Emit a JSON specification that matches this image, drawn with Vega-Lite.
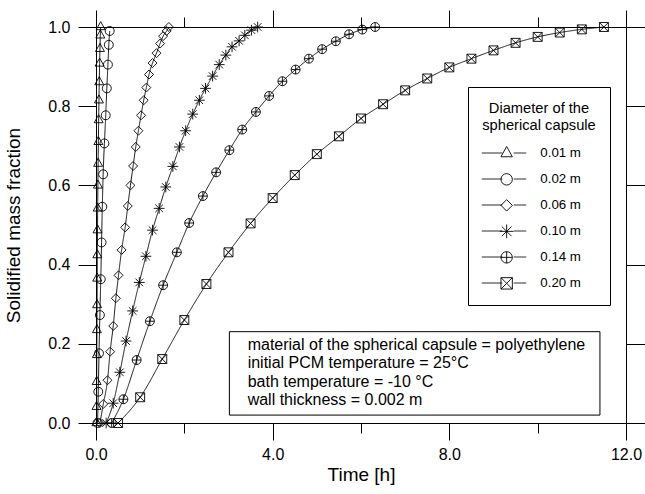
{
  "$schema": "https://vega.github.io/schema/vega-lite/v6.json",
  "width": 530,
  "height": 396,
  "autosize": {"type": "none"},
  "padding": {"left": 96, "top": 27, "right": 19, "bottom": 71},
  "background": "white",
  "config": {
    "view": {"stroke": null},
    "font": "Liberation Sans",
    "axis": {"grid": false, "domainColor": "#000", "tickColor": "#000", "labelColor": "#000", "titleColor": "#000", "domainWidth": 1, "tickWidth": 1}
  },
  "datasets": {
    "curves": [
      {"d": "0.01 m", "t": 0.010, "f": 0.000},
      {"d": "0.01 m", "t": 0.012, "f": 0.041},
      {"d": "0.01 m", "t": 0.015, "f": 0.104},
      {"d": "0.01 m", "t": 0.018, "f": 0.172},
      {"d": "0.01 m", "t": 0.021, "f": 0.235},
      {"d": "0.01 m", "t": 0.024, "f": 0.298},
      {"d": "0.01 m", "t": 0.027, "f": 0.365},
      {"d": "0.01 m", "t": 0.030, "f": 0.424},
      {"d": "0.01 m", "t": 0.034, "f": 0.487},
      {"d": "0.01 m", "t": 0.038, "f": 0.542},
      {"d": "0.01 m", "t": 0.043, "f": 0.600},
      {"d": "0.01 m", "t": 0.048, "f": 0.655},
      {"d": "0.01 m", "t": 0.054, "f": 0.710},
      {"d": "0.01 m", "t": 0.060, "f": 0.765},
      {"d": "0.01 m", "t": 0.067, "f": 0.815},
      {"d": "0.01 m", "t": 0.074, "f": 0.861},
      {"d": "0.01 m", "t": 0.082, "f": 0.908},
      {"d": "0.01 m", "t": 0.090, "f": 0.945},
      {"d": "0.01 m", "t": 0.098, "f": 0.979},
      {"d": "0.01 m", "t": 0.106, "f": 1.000},

      {"d": "0.02 m", "t": 0.035, "f": 0.000},
      {"d": "0.02 m", "t": 0.052, "f": 0.079},
      {"d": "0.02 m", "t": 0.068, "f": 0.176},
      {"d": "0.02 m", "t": 0.088, "f": 0.2725},
      {"d": "0.02 m", "t": 0.108, "f": 0.363},
      {"d": "0.02 m", "t": 0.126, "f": 0.456},
      {"d": "0.02 m", "t": 0.143, "f": 0.546},
      {"d": "0.02 m", "t": 0.162, "f": 0.628},
      {"d": "0.02 m", "t": 0.190, "f": 0.706},
      {"d": "0.02 m", "t": 0.220, "f": 0.777},
      {"d": "0.02 m", "t": 0.245, "f": 0.845},
      {"d": "0.02 m", "t": 0.270, "f": 0.905},
      {"d": "0.02 m", "t": 0.290, "f": 0.955},
      {"d": "0.02 m", "t": 0.310, "f": 0.990},

      {"d": "0.06 m", "t": 0.09, "f": 0.000},
      {"d": "0.06 m", "t": 0.165, "f": 0.048},
      {"d": "0.06 m", "t": 0.26, "f": 0.108},
      {"d": "0.06 m", "t": 0.32, "f": 0.180},
      {"d": "0.06 m", "t": 0.39, "f": 0.245},
      {"d": "0.06 m", "t": 0.45, "f": 0.315},
      {"d": "0.06 m", "t": 0.51, "f": 0.373},
      {"d": "0.06 m", "t": 0.58, "f": 0.437},
      {"d": "0.06 m", "t": 0.66, "f": 0.494},
      {"d": "0.06 m", "t": 0.72, "f": 0.548},
      {"d": "0.06 m", "t": 0.78, "f": 0.600},
      {"d": "0.06 m", "t": 0.84, "f": 0.649},
      {"d": "0.06 m", "t": 0.90, "f": 0.697},
      {"d": "0.06 m", "t": 0.96, "f": 0.738},
      {"d": "0.06 m", "t": 1.02, "f": 0.777},
      {"d": "0.06 m", "t": 1.08, "f": 0.815},
      {"d": "0.06 m", "t": 1.14, "f": 0.847},
      {"d": "0.06 m", "t": 1.20, "f": 0.880},
      {"d": "0.06 m", "t": 1.28, "f": 0.909},
      {"d": "0.06 m", "t": 1.37, "f": 0.934},
      {"d": "0.06 m", "t": 1.45, "f": 0.958},
      {"d": "0.06 m", "t": 1.52, "f": 0.977},
      {"d": "0.06 m", "t": 1.60, "f": 0.990},
      {"d": "0.06 m", "t": 1.65, "f": 1.000},

      {"d": "0.10 m", "t": 0.23, "f": 0.000},
      {"d": "0.10 m", "t": 0.39, "f": 0.050},
      {"d": "0.10 m", "t": 0.54, "f": 0.128},
      {"d": "0.10 m", "t": 0.68, "f": 0.207},
      {"d": "0.10 m", "t": 0.83, "f": 0.283},
      {"d": "0.10 m", "t": 0.98, "f": 0.355},
      {"d": "0.10 m", "t": 1.13, "f": 0.421},
      {"d": "0.10 m", "t": 1.28, "f": 0.487},
      {"d": "0.10 m", "t": 1.43, "f": 0.542},
      {"d": "0.10 m", "t": 1.58, "f": 0.596},
      {"d": "0.10 m", "t": 1.74, "f": 0.648},
      {"d": "0.10 m", "t": 1.89, "f": 0.697},
      {"d": "0.10 m", "t": 2.03, "f": 0.738},
      {"d": "0.10 m", "t": 2.19, "f": 0.780},
      {"d": "0.10 m", "t": 2.34, "f": 0.815},
      {"d": "0.10 m", "t": 2.48, "f": 0.845},
      {"d": "0.10 m", "t": 2.64, "f": 0.876},
      {"d": "0.10 m", "t": 2.79, "f": 0.905},
      {"d": "0.10 m", "t": 2.94, "f": 0.929},
      {"d": "0.10 m", "t": 3.08, "f": 0.950},
      {"d": "0.10 m", "t": 3.24, "f": 0.965},
      {"d": "0.10 m", "t": 3.37, "f": 0.979},
      {"d": "0.10 m", "t": 3.52, "f": 0.992},
      {"d": "0.10 m", "t": 3.66, "f": 1.000},

      {"d": "0.14 m", "t": 0.355, "f": 0.000},
      {"d": "0.14 m", "t": 0.62, "f": 0.060},
      {"d": "0.14 m", "t": 0.92, "f": 0.159},
      {"d": "0.14 m", "t": 1.22, "f": 0.257},
      {"d": "0.14 m", "t": 1.52, "f": 0.348},
      {"d": "0.14 m", "t": 1.83, "f": 0.431},
      {"d": "0.14 m", "t": 2.11, "f": 0.505},
      {"d": "0.14 m", "t": 2.42, "f": 0.573},
      {"d": "0.14 m", "t": 2.72, "f": 0.633},
      {"d": "0.14 m", "t": 3.02, "f": 0.689},
      {"d": "0.14 m", "t": 3.31, "f": 0.741},
      {"d": "0.14 m", "t": 3.62, "f": 0.7855},
      {"d": "0.14 m", "t": 3.92, "f": 0.826},
      {"d": "0.14 m", "t": 4.22, "f": 0.863},
      {"d": "0.14 m", "t": 4.52, "f": 0.8925},
      {"d": "0.14 m", "t": 4.82, "f": 0.920},
      {"d": "0.14 m", "t": 5.12, "f": 0.944},
      {"d": "0.14 m", "t": 5.43, "f": 0.964},
      {"d": "0.14 m", "t": 5.73, "f": 0.9816},
      {"d": "0.14 m", "t": 6.03, "f": 0.9935},
      {"d": "0.14 m", "t": 6.32, "f": 1.000},

      {"d": "0.20 m", "t": 0.5, "f": 0.000},
      {"d": "0.20 m", "t": 1.0, "f": 0.065},
      {"d": "0.20 m", "t": 1.5, "f": 0.1615},
      {"d": "0.20 m", "t": 2.0, "f": 0.260},
      {"d": "0.20 m", "t": 2.5, "f": 0.351},
      {"d": "0.20 m", "t": 3.0, "f": 0.431},
      {"d": "0.20 m", "t": 3.5, "f": 0.504},
      {"d": "0.20 m", "t": 4.0, "f": 0.568},
      {"d": "0.20 m", "t": 4.5, "f": 0.626},
      {"d": "0.20 m", "t": 5.0, "f": 0.679},
      {"d": "0.20 m", "t": 5.5, "f": 0.724},
      {"d": "0.20 m", "t": 6.0, "f": 0.769},
      {"d": "0.20 m", "t": 6.5, "f": 0.805},
      {"d": "0.20 m", "t": 7.0, "f": 0.840},
      {"d": "0.20 m", "t": 7.5, "f": 0.870},
      {"d": "0.20 m", "t": 8.0, "f": 0.898},
      {"d": "0.20 m", "t": 8.5, "f": 0.920},
      {"d": "0.20 m", "t": 9.0, "f": 0.941},
      {"d": "0.20 m", "t": 9.5, "f": 0.960},
      {"d": "0.20 m", "t": 10.0, "f": 0.975},
      {"d": "0.20 m", "t": 10.5, "f": 0.986},
      {"d": "0.20 m", "t": 11.0, "f": 0.994},
      {"d": "0.20 m", "t": 11.5, "f": 1.000}
    ],
    "box": [{"t0": 3.02, "t1": 11.41, "f0": 0.02, "f1": 0.2306}],
    "notes": [
      {"text": "material of the spherical capsule = polyethylene", "t": 3.434, "f": 0.1968},
      {"text": "initial PCM temperature = 25°C", "t": 3.434, "f": 0.1506},
      {"text": "bath temperature = -10 °C", "t": 3.434, "f": 0.1044},
      {"text": "wall thickness = 0.002 m", "t": 3.434, "f": 0.0583}
    ]
  },
  "layer": [
    {
      "data": {"name": "curves"},
      "mark": {"type": "line", "color": "#000", "strokeWidth": 0.9, "interpolate": "monotone"},
      "encoding": {
        "x": {"field": "t", "type": "quantitative", "scale": {"domain": [0, 12], "nice": false, "zero": false},
          "axis": {"orient": "bottom", "values": [0, 2, 4, 6, 8, 10, 12],
            "labelExpr": "datum.value % 4 == 0 ? format(datum.value, '.1f') : ''",
            "tickSize": {"condition": {"test": "datum.value % 4 != 0", "value": 10}, "value": 17},
            "labelFontSize": 16, "labelPadding": 6, "labelFlush": false, "labelOverlap": false,
            "title": "Time [h]", "titleFontSize": 19, "titleFontWeight": "normal", "titlePadding": 3}},
        "y": {"field": "f", "type": "quantitative", "scale": {"domain": [0, 1], "nice": false, "zero": false},
          "axis": {"orient": "left", "values": [0, 0.2, 0.4, 0.6, 0.8, 1.0], "format": ".1f",
            "tickSize": 18, "labelFontSize": 16, "labelPadding": 8, "labelFlush": false, "labelOverlap": false,
            "title": "Solidified mass fraction", "titleFontSize": 19, "titleFontWeight": "normal", "titlePadding": 24}},
        "strokeDash": {"field": "d", "type": "nominal",
          "scale": {"range": [[1, 0], [1, 0], [1, 0], [1, 0], [1, 0], [1, 0]]},
          "legend": {
            "orient": "none", "legendX": 405.35, "legendY": 119.35,
            "title": null, "padding": 0,
            "labelFontSize": 13.3, "labelExpr": "''", "labelOffset": 27,
            "symbolType": "M-4.6,0L-1,0M1,0L3.2,0M0,-1.2L0.001,-1.2M0,1.2L0.001,1.2",
            "symbolSize": 130, "symbolStrokeWidth": 0.9, "symbolOpacity": 1, "symbolStrokeColor": "#000",
            "rowPadding": 8, "gridAlign": "all"
          }
        }
      }
    },
    {
      "data": {"name": "curves"},
      "mark": {"type": "point", "filled": false, "color": "#000", "strokeWidth": 0.9, "opacity": 1, "size": 80},
      "encoding": {
        "x": {"field": "t", "type": "quantitative",
          "axis": {"orient": "top", "values": [0, 2, 4, 6, 8, 10, 12], "labels": false, "title": null,
            "tickSize": {"condition": {"test": "datum.value % 4 != 0", "value": 10}, "value": 17}}},
        "y": {"field": "f", "type": "quantitative",
          "axis": {"orient": "right", "values": [0, 0.2, 0.4, 0.6, 0.8, 1.0], "labels": false, "title": null, "tickSize": 19}},
        "shape": {"field": "d", "type": "nominal",
          "scale": {"domain": ["0.01 m", "0.02 m", "0.06 m", "0.10 m", "0.14 m", "0.20 m"],
            "range": [
              "M0,-1.2L1,0.6L-1,0.6Z",
              "M-1,0A1,1,0,1,1,1,0A1,1,0,1,1,-1,0Z",
              "M0,-1L1,0L0,1L-1,0Z",
              "M0,-1.2L0,1.2M-1.2,0L1.2,0M-0.85,-0.85L0.85,0.85M-0.85,0.85L0.85,-0.85",
              "M-1,0A1,1,0,1,1,1,0A1,1,0,1,1,-1,0ZM0,-1L0,1M-1,0L1,0",
              "M-1,-1L1,-1L1,1L-1,1ZM-1,-1L1,1M-1,1L1,-1"
            ]},
          "legend": {
            "orient": "none", "legendX": 372, "legendY": 60,
            "title": ["Diameter of the", "spherical capsule"],
            "titleFontSize": 14.7, "titleFontWeight": "normal", "titleColor": "#000",
            "titleAlign": "center", "titleAnchor": "middle", "titleLineHeight": 16.5, "titlePadding": 14.5,
            "labelFontSize": 13.3, "labelColor": "#000", "labelOffset": 27,
            "symbolSize": 130, "symbolStrokeWidth": 0.9, "symbolOpacity": 1, "symbolFillColor": "#fff", "symbolOffset": 2,
            "rowPadding": 8, "gridAlign": "all", "padding": 14,
            "strokeColor": "#000", "cornerRadius": 0
          }
        }
      }
    },
    {
      "data": {"name": "box"},
      "mark": {"type": "rect", "fill": "#fff", "stroke": "#000", "strokeWidth": 1},
      "encoding": {
        "x": {"field": "t0", "type": "quantitative", "axis": null},
        "x2": {"field": "t1"},
        "y": {"field": "f0", "type": "quantitative", "axis": null},
        "y2": {"field": "f1"}
      }
    },
    {
      "data": {"name": "notes"},
      "mark": {"type": "text", "align": "left", "baseline": "middle", "fontSize": 16, "color": "#000"},
      "encoding": {
        "x": {"field": "t", "type": "quantitative", "axis": null},
        "y": {"field": "f", "type": "quantitative", "axis": null},
        "text": {"field": "text"}
      }
    }
  ],
  "resolve": {"axis": {"x": "independent", "y": "independent"}}
}
